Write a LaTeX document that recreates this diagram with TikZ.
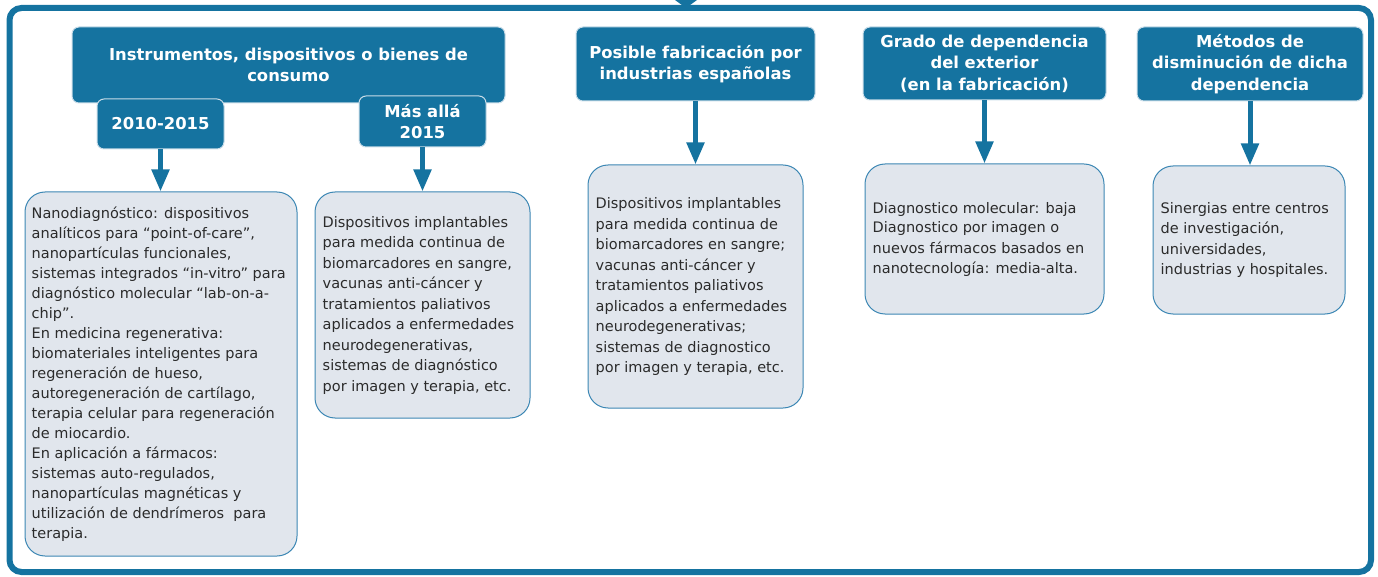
\documentclass[tikz,border=0pt]{standalone}
\usepackage{fontspec}
\setmainfont{DejaVu Sans}
\usetikzlibrary{arrows.meta}
\definecolor{hdrfill}{HTML}{1573A0}
\definecolor{hdrborder}{HTML}{C8DCE8}
\definecolor{boxfill}{HTML}{E1E6ED}
\definecolor{boxborder}{HTML}{3C87B4}
\definecolor{textcol}{HTML}{2B2B2B}
\tikzset{
  hdr/.style={draw=hdrborder, fill=hdrfill, line width=1pt, rounded corners=7pt,
    text=white, align=center, inner sep=0pt,
    font=\fontsize{16.4}{21.6}\selectfont\bfseries},
  txtbox/.style={draw=boxborder, fill=boxfill, line width=1pt, rounded corners=20pt, inner sep=0pt},
  boxtext/.style={anchor=west, align=left, inner sep=0pt, text=textcol,
    font=\fontsize{14.5}{20}\selectfont},
  boxtextw/.style={anchor=west, align=left, inner sep=0pt, text=textcol,
    font=\fontsize{14.5}{20.5}\selectfont},
  arr/.style={draw=hdrfill, line width=5pt, -{Triangle[width=17pt,length=22pt]}},
  framebox/.style={draw=hdrfill, line width=6pt, rounded corners=12pt}
}
\begin{document}
\begin{tikzpicture}[x=1pt,y=-1pt]
\useasboundingbox (0,0) rectangle (1378,577);
% outer frame
\draw[framebox] (9.5,8) rectangle (1371,572);
\fill[hdrfill] (675,0) -- (697,0) -- (686,8) -- cycle;

% headers
\node[hdr, minimum width=433pt, minimum height=76pt] (hInst) at (288.5,65)
  {Instrumentos, dispositivos o bienes de\\consumo};
\node[hdr, minimum width=127pt, minimum height=50pt] (h2010) at (160.5,124) {2010-2015};
\node[hdr, minimum width=127pt, minimum height=51pt] (h2015) at (422.5,121.5) {Más allá\\2015};
\node[hdr, minimum width=239pt, minimum height=74pt] (hPos) at (695.5,64)
  {Posible fabricación por\\industrias españolas};
\node[hdr, minimum width=243pt, minimum height=73pt] (hGra) at (984.5,63.5)
  {Grado de dependencia\\del exterior\\(en la fabricación)};
\node[hdr, minimum width=226pt, minimum height=74pt] (hMet) at (1250,64)
  {Métodos de\\disminución de dicha\\dependencia};

% text boxes
\node[txtbox, minimum width=272pt, minimum height=364pt] (bA) at (161,374) {};
\node[txtbox, minimum width=215pt, minimum height=226pt] (bB) at (422.5,305) {};
\node[txtbox, minimum width=215pt, minimum height=243pt] (bC) at (695.5,286.5) {};
\node[txtbox, minimum width=239pt, minimum height=150pt] (bD) at (984.5,239) {};
\node[txtbox, minimum width=192pt, minimum height=148pt] (bE) at (1249,240) {};

\node[boxtext] (tA) at ([xshift=7pt]bA.west) {Nanodiagnóstico: dispositivos\\
analíticos para “point-of-care”,\\
nanopartículas funcionales,\\
sistemas integrados “in-vitro” para\\
diagnóstico molecular “lab-on-a-\\
chip”.\\
En medicina regenerativa:\\
biomateriales inteligentes para\\
regeneración de hueso,\\
autoregeneración de cartílago,\\
terapia celular para regeneración\\
de miocardio.\\
En aplicación a fármacos:\\
sistemas auto-regulados,\\
nanopartículas magnéticas y\\
utilización de dendrímeros\ \ para\\
terapia.};
\node[boxtextw] (tB) at ([xshift=8pt]bB.west) {Dispositivos implantables\\
para medida continua de\\
biomarcadores en sangre,\\
vacunas anti-cáncer y\\
tratamientos paliativos\\
aplicados a enfermedades\\
neurodegenerativas,\\
sistemas de diagnóstico\\
por imagen y terapia, etc.};
\node[boxtextw] (tC) at ([xshift=8pt]bC.west) {Dispositivos implantables\\
para medida continua de\\
biomarcadores en sangre;\\
vacunas anti-cáncer y\\
tratamientos paliativos\\
aplicados a enfermedades\\
neurodegenerativas;\\
sistemas de diagnostico\\
por imagen y terapia, etc.};
\node[boxtext] (tD) at ([xshift=8pt]bD.west) {Diagnostico molecular: baja\\
Diagnostico por imagen o\\
nuevos fármacos basados en\\
nanotecnología: media-alta.};
\node[boxtext] (tE) at ([xshift=8pt]bE.west) {Sinergias entre centros\\
de investigación,\\
universidades,\\
industrias y hospitales.};

% arrows
\draw[arr] (h2010.south) -- (h2010.south |- bA.north);
\draw[arr] (h2015.south) -- (h2015.south |- bB.north);
\draw[arr] (hPos.south) -- (hPos.south |- bC.north);
\draw[arr] (hGra.south) -- (hGra.south |- bD.north);
\draw[arr] (hMet.south) -- (hMet.south |- bE.north);
\end{tikzpicture}
\end{document}
